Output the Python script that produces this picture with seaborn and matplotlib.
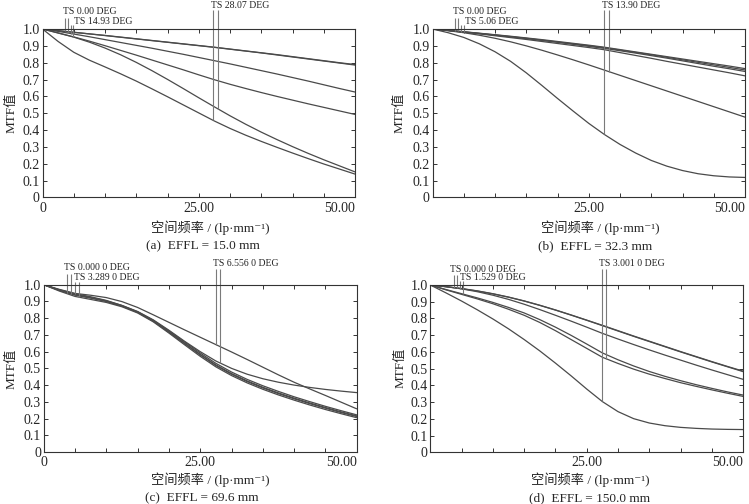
import numpy as np
import pandas as pd
import matplotlib
matplotlib.use("Agg")
import matplotlib.pyplot as plt
import seaborn as sns

# ---------------- data ----------------
freq = [0, 2.5, 5, 7.5, 10, 12.5, 15, 17.5, 20, 22.5, 25, 27.5,
        30, 32.5, 35, 37.5, 40, 42.5, 45, 47.5, 50]

# (a) EFFL = 15.0 mm
a_0T = [1.000, 0.990, 0.980, 0.971, 0.961, 0.951, 0.941, 0.931, 0.921, 0.911, 0.901, 0.891,
        0.880, 0.869, 0.858, 0.846, 0.834, 0.822, 0.810, 0.798, 0.786]
a_0S = [1.000, 0.990, 0.981, 0.971, 0.962, 0.952, 0.942, 0.932, 0.922, 0.912, 0.902, 0.892,
        0.881, 0.870, 0.859, 0.848, 0.836, 0.824, 0.812, 0.800, 0.789]
a_1S = [1.000, 0.986, 0.970, 0.954, 0.937, 0.920, 0.903, 0.886, 0.868, 0.850, 0.831, 0.812,
        0.793, 0.773, 0.753, 0.733, 0.712, 0.691, 0.669, 0.647, 0.626]
a_1T = [1.000, 0.977, 0.953, 0.928, 0.901, 0.873, 0.845, 0.816, 0.787, 0.758, 0.728, 0.699,
        0.672, 0.647, 0.623, 0.600, 0.578, 0.556, 0.535, 0.514, 0.493]
a_2S = [1.000, 0.976, 0.952, 0.922, 0.887, 0.847, 0.802, 0.753, 0.701, 0.647, 0.592, 0.538,
        0.485, 0.435, 0.388, 0.344, 0.302, 0.262, 0.224, 0.188, 0.152]
a_2T = [1.000, 0.926, 0.862, 0.815, 0.775, 0.734, 0.691, 0.645, 0.598, 0.550, 0.502, 0.454,
        0.410, 0.370, 0.333, 0.298, 0.264, 0.231, 0.199, 0.169, 0.139]

# (b) EFFL = 32.3 mm
b_0T = [1.000, 0.992, 0.984, 0.975, 0.966, 0.957, 0.947, 0.937, 0.926, 0.915, 0.904, 0.892,
        0.878, 0.864, 0.850, 0.836, 0.822, 0.808, 0.794, 0.780, 0.765]
b_0S = [1.000, 0.992, 0.983, 0.974, 0.965, 0.955, 0.945, 0.934, 0.923, 0.912, 0.901, 0.889,
        0.875, 0.861, 0.847, 0.832, 0.817, 0.802, 0.787, 0.772, 0.757]
b_1T = [1.000, 0.991, 0.982, 0.973, 0.963, 0.953, 0.943, 0.932, 0.921, 0.909, 0.897, 0.885,
        0.871, 0.857, 0.842, 0.827, 0.811, 0.795, 0.779, 0.764, 0.748]
b_1S = [1.000, 0.991, 0.981, 0.971, 0.960, 0.949, 0.938, 0.926, 0.914, 0.902, 0.890, 0.877,
        0.860, 0.843, 0.826, 0.808, 0.791, 0.774, 0.757, 0.740, 0.722]
b_2S = [1.000, 0.990, 0.978, 0.963, 0.945, 0.924, 0.900, 0.874, 0.846, 0.817, 0.787, 0.756,
        0.725, 0.694, 0.663, 0.632, 0.601, 0.570, 0.539, 0.508, 0.477]
b_2T = [1.000, 0.978, 0.950, 0.912, 0.865, 0.808, 0.740, 0.665, 0.588, 0.513, 0.440, 0.374,
        0.315, 0.264, 0.220, 0.186, 0.160, 0.141, 0.129, 0.122, 0.119]

# (c) EFFL = 69.6 mm
c_0T = [1.000, 0.966, 0.938, 0.920, 0.900, 0.872, 0.835, 0.782, 0.716, 0.648, 0.580, 0.517,
        0.465, 0.421, 0.383, 0.349, 0.318, 0.289, 0.262, 0.236, 0.212]
c_0S = [1.000, 0.967, 0.940, 0.922, 0.901, 0.873, 0.836, 0.784, 0.719, 0.651, 0.584, 0.521,
        0.469, 0.425, 0.387, 0.353, 0.322, 0.293, 0.266, 0.240, 0.216]
c_1T = [1.000, 0.970, 0.946, 0.928, 0.906, 0.876, 0.838, 0.787, 0.724, 0.658, 0.592, 0.530,
        0.478, 0.434, 0.396, 0.362, 0.330, 0.301, 0.273, 0.247, 0.222]
c_1S = [1.000, 0.962, 0.930, 0.912, 0.894, 0.868, 0.831, 0.778, 0.711, 0.641, 0.572, 0.509,
        0.457, 0.413, 0.375, 0.341, 0.310, 0.281, 0.254, 0.229, 0.205]
c_2S = [1.000, 0.972, 0.948, 0.937, 0.923, 0.899, 0.864, 0.820, 0.775, 0.730, 0.686, 0.642,
        0.598, 0.553, 0.507, 0.461, 0.417, 0.377, 0.338, 0.298, 0.258]
c_2T = [1.000, 0.968, 0.942, 0.924, 0.904, 0.876, 0.840, 0.790, 0.728, 0.662, 0.600, 0.544,
        0.500, 0.465, 0.438, 0.417, 0.400, 0.386, 0.374, 0.364, 0.355]

# (d) EFFL = 150.0 mm
d_0T = [1.000, 0.990, 0.978, 0.964, 0.947, 0.927, 0.904, 0.878, 0.850, 0.820, 0.789, 0.757,
        0.725, 0.693, 0.662, 0.631, 0.600, 0.570, 0.540, 0.511, 0.482]
d_0S = [1.000, 0.990, 0.979, 0.965, 0.948, 0.928, 0.905, 0.879, 0.851, 0.821, 0.790, 0.759,
        0.727, 0.695, 0.664, 0.633, 0.602, 0.572, 0.542, 0.513, 0.485]
d_1S = [1.000, 0.990, 0.977, 0.960, 0.939, 0.914, 0.885, 0.853, 0.819, 0.784, 0.748, 0.711,
        0.677, 0.644, 0.612, 0.581, 0.551, 0.521, 0.492, 0.464, 0.436]
d_1T = [1.000, 0.973, 0.948, 0.923, 0.896, 0.866, 0.833, 0.793, 0.748, 0.699, 0.647, 0.594,
        0.553, 0.516, 0.483, 0.454, 0.428, 0.404, 0.382, 0.361, 0.342]
d_2S = [1.000, 0.971, 0.944, 0.917, 0.888, 0.855, 0.819, 0.776, 0.727, 0.674, 0.621, 0.568,
        0.531, 0.497, 0.467, 0.441, 0.416, 0.394, 0.373, 0.353, 0.334]
d_2T = [1.000, 0.953, 0.904, 0.852, 0.797, 0.738, 0.674, 0.606, 0.533, 0.457, 0.378, 0.303,
        0.243, 0.201, 0.175, 0.159, 0.149, 0.143, 0.139, 0.137, 0.136]

# field labels and positions of the Zemax marker ticks (frequency)
a_fields = ["TS 0.00 DEG", "TS 14.93 DEG", "TS 28.07 DEG"]
b_fields = ["TS 0.00 DEG", "TS 5.06 DEG", "TS 13.90 DEG"]
c_fields = ["TS 0.000 0 DEG", "TS 3.289 0 DEG", "TS 6.556 0 DEG"]
d_fields = ["TS 0.000 0 DEG", "TS 1.529 0 DEG", "TS 3.001 0 DEG"]
a_marker_x = [3.6, 4.05, 4.5, 4.9, 27.3, 28.1]
b_marker_x = [3.6, 4.0, 4.6, 5.1, 27.5, 28.2]
c_marker_x = [3.8, 4.4, 5.0, 5.7, 27.5, 28.2]
d_marker_x = [3.8, 4.3, 4.7, 5.2, 27.4, 28.0]

captions = ["(a)  EFFL = 15.0 mm", "(b)  EFFL = 32.3 mm",
            "(c)  EFFL = 69.6 mm", "(d)  EFFL = 150.0 mm"]
y_ticks = [0, 0.1, 0.2, 0.3, 0.4, 0.5, 0.6, 0.7, 0.8, 0.9, 1.0]
y_ticklabels = ["0", "0.1", "0.2", "0.3", "0.4", "0.5", "0.6", "0.7", "0.8", "0.9", "1.0"]
x_ticks = [0, 25, 50]

# ---------------- style ----------------
sns.set_style("ticks")
plt.rcParams["font.family"] = ["Liberation Serif", "Noto Sans CJK SC", "DejaVu Serif"]
plt.rcParams["axes.unicode_minus"] = False

W, H = 749, 504
fig = plt.figure(figsize=(W / 100, H / 100), dpi=100)

# panel rectangles in pixels: left, top, right, bottom
rects = [(42.5, 29, 355, 197.5), (432.5, 29, 745, 197.5),
         (43.7, 284.7, 356.7, 452), (430.3, 285, 743.2, 452.3)]

panels = [
    dict(curves=[a_0T, a_0S, a_1S, a_1T, a_2S, a_2T], fields=a_fields, mx=a_marker_x,
         ends=[a_0T, a_0S, a_1S, a_1T, a_2T, a_2S], xl0="0",
         lab=[(63, 12), (74, 21), (211, 6)], start=[18, 25, 10],
         ylab=(12, 113), xlab=(210, 228), cap=(203, 246)),
    dict(curves=[b_0T, b_0S, b_1T, b_1S, b_2S, b_2T], fields=b_fields, mx=b_marker_x,
         ends=[b_0T, b_0S, b_1T, b_1S, b_2T, b_2S], xl0="",
         lab=[(453, 12), (465, 21), (602, 6)], start=[18, 25, 10],
         ylab=(400, 113), xlab=(600, 228), cap=(595, 246)),
    dict(curves=[c_0T, c_0S, c_1T, c_1S, c_2S, c_2T], fields=c_fields, mx=c_marker_x,
         ends=[c_0T, c_0S, c_1T, c_1S, c_2S, c_2T], xl0="0",
         lab=[(64, 268), (74, 277), (213, 263)], start=[274, 282, 269],
         ylab=(12, 369), xlab=(210, 480), cap=(202, 498)),
    dict(curves=[d_0T, d_0S, d_1S, d_1T, d_2S, d_2T], fields=d_fields, mx=d_marker_x,
         ends=[d_0T, d_0S, d_1S, d_1T, d_2T, d_2S], xl0="",
         lab=[(450, 269), (460, 278), (599, 264)], start=[275, 281, 269],
         ylab=(401, 368), xlab=(590, 480), cap=(590, 498)),
]

curve_color = "#4a4a4a"
marker_color = "#7a7a7a"

for i, (p, r) in enumerate(zip(panels, rects)):
    l, t, rr, b = r
    ax = fig.add_axes([l / W, 1 - b / H, (rr - l) / W, (b - t) / H])
    df = pd.concat([pd.DataFrame({"freq": freq, "mtf": c, "curve": k})
                    for k, c in enumerate(p["curves"])])
    sns.lineplot(data=df, x="freq", y="mtf", units="curve", estimator=None,
                 color=curve_color, linewidth=0.9, ax=ax, legend=False)
    ax.set_xlim(0, 50)
    ax.set_ylim(0, 1)
    ax.set_xticks(x_ticks)
    ax.set_xticks(np.arange(0, 51, 5), minor=True)
    ax.set_yticks(y_ticks)
    ax.set_yticklabels(y_ticklabels, fontsize=10)
    ax.set_xticklabels([p["xl0"], "25.00", "50.00"], fontsize=10)
    ax.get_xticklabels()[2].set_ha("right")
    ax.tick_params(which="both", direction="in", top=True, right=True,
                   length=3, width=0.7, color="#333333", pad=2)
    ax.tick_params(axis="x", pad=3)
    for s in ax.spines.values():
        s.set_color("#333333")
        s.set_linewidth(0.8)
    ax.set_xlabel("")
    ax.set_ylabel("")

    # field markers
    ph = b - t
    for k in range(6):
        x = p["mx"][k]
        fld = k // 2
        y0 = (b - p["start"][fld]) / ph
        y1 = float(np.interp(x, freq, p["ends"][k]))
        ax.plot([x, x], [y0, y1], color=marker_color, lw=0.8, clip_on=False,
                solid_capstyle="butt")
    for fld in range(3):
        lx, ly = p["lab"][fld]
        fig.text(lx / W, 1 - ly / H, p["fields"][fld], fontsize=7,
                 ha="left", va="center", color="#222222")

    fig.text(p["ylab"][0] / W, 1 - p["ylab"][1] / H, "MTF值", rotation=90,
             fontsize=9.5, ha="center", va="center")
    fig.text(p["xlab"][0] / W, 1 - p["xlab"][1] / H, "空间频率 / (lp·mm⁻¹)",
             fontsize=9.5, ha="center", va="center")
    fig.text(p["cap"][0] / W, 1 - p["cap"][1] / H, captions[i],
             fontsize=9.5, ha="center", va="center")

fig.savefig("out.png", dpi=100)
